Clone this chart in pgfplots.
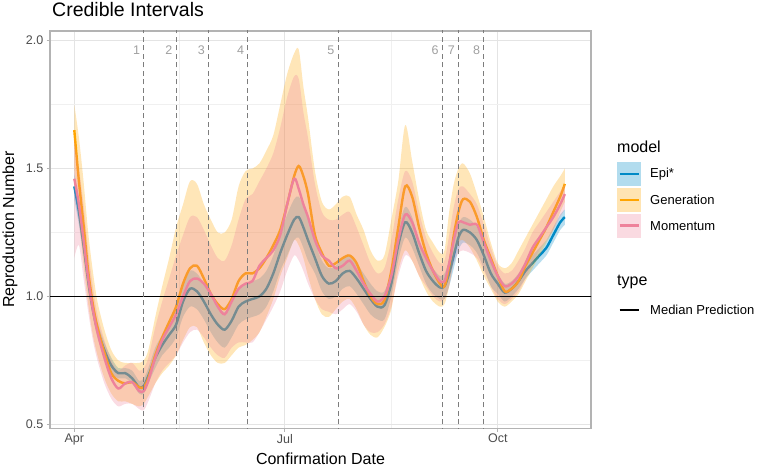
\documentclass[border=0pt]{standalone}
\usepackage{fontspec}
\setmainfont{Liberation Sans}
\usepackage{pgfplots}
\pgfplotsset{compat=1.18}
\usepgfplotslibrary{fillbetween}
\usepackage{pgfplotstable}

\definecolor{epiblue}{RGB}{0,138,198}
\definecolor{genorange}{RGB}{255,165,0}
\definecolor{mompink}{RGB}{238,130,155}
\definecolor{grey70}{RGB}{179,179,179}
\definecolor{gridmaj}{RGB}{228,228,228}
\definecolor{gridmin}{RGB}{240,240,240}
\definecolor{grey30}{RGB}{77,77,77}
\definecolor{dashgray}{RGB}{125,125,125}
\definecolor{labgray}{RGB}{160,160,160}

\tikzset{fill between/on layer=main}

\pgfplotstableread{
day epi epiL epiU gen genL genU mom momL momU
0 1.43 1.38 1.48 1.65 1.50 1.75 1.46 1.15 1.62
2 1.33 1.28 1.38 1.45 1.30 1.62 1.36 1.20 1.50
4 1.20 1.16 1.24 1.28 1.12 1.45 1.22 1.07 1.36
6 1.06 1.02 1.10 1.10 0.97 1.25 1.07 0.94 1.18
8 0.95 0.92 0.98 0.97 0.85 1.10 0.95 0.83 1.04
10 0.87 0.84 0.90 0.88 0.77 0.98 0.86 0.75 0.93
13 0.79 0.76 0.82 0.78 0.68 0.87 0.76 0.66 0.83
16 0.73 0.70 0.76 0.70 0.62 0.79 0.68 0.60 0.75
19 0.70 0.68 0.72 0.67 0.59 0.75 0.64 0.57 0.71
22 0.70 0.68 0.72 0.66 0.59 0.74 0.66 0.58 0.73
25 0.68 0.66 0.71 0.665 0.58 0.74 0.665 0.58 0.74
28 0.645 0.62 0.67 0.645 0.57 0.74 0.63 0.56 0.71
30 0.65 0.62 0.68 0.645 0.58 0.75 0.63 0.555 0.72
32 0.69 0.66 0.72 0.68 0.61 0.79 0.67 0.59 0.76
35 0.76 0.72 0.80 0.77 0.66 0.92 0.76 0.66 0.88
38 0.81 0.77 0.85 0.84 0.70 1.04 0.83 0.71 0.98
41 0.85 0.80 0.90 0.90 0.73 1.15 0.88 0.74 1.07
44 0.89 0.84 0.95 0.96 0.77 1.27 0.93 0.77 1.16
47 0.98 0.92 1.04 1.05 0.83 1.36 1.00 0.82 1.24
50 1.03 0.96 1.10 1.11 0.88 1.45 1.06 0.86 1.31
53 1.02 0.95 1.09 1.12 0.88 1.44 1.07 0.87 1.31
56 0.98 0.91 1.05 1.07 0.82 1.36 1.05 0.84 1.26
59 0.93 0.86 1.00 1.01 0.77 1.30 1.01 0.80 1.20
62 0.89 0.82 0.96 0.97 0.74 1.25 0.96 0.77 1.15
65 0.87 0.80 0.94 0.95 0.74 1.25 0.93 0.76 1.14
68 0.905 0.84 0.97 0.99 0.77 1.30 0.98 0.80 1.20
71 0.96 0.89 1.03 1.06 0.80 1.43 1.03 0.82 1.30
74 0.98 0.91 1.05 1.09 0.81 1.49 1.05 0.82 1.38
77 0.99 0.92 1.06 1.09 0.83 1.50 1.06 0.82 1.40
80 1.00 0.93 1.07 1.11 0.86 1.52 1.12 0.86 1.45
83 1.03 0.96 1.10 1.15 0.92 1.57 1.15 0.91 1.50
86 1.09 1.02 1.16 1.20 0.99 1.63 1.18 0.96 1.56
89 1.17 1.10 1.24 1.26 1.08 1.75 1.24 1.02 1.66
92 1.24 1.16 1.32 1.36 1.15 1.87 1.36 1.10 1.78
95 1.30 1.22 1.38 1.47 1.22 1.95 1.46 1.16 1.86
97 1.31 1.23 1.39 1.51 1.20 1.965 1.42 1.14 1.85
99 1.27 1.19 1.35 1.47 1.15 1.82 1.36 1.10 1.72
101 1.22 1.14 1.30 1.40 1.08 1.70 1.31 1.05 1.62
104 1.15 1.09 1.21 1.24 0.99 1.49 1.22 0.99 1.44
107 1.08 1.02 1.14 1.17 0.93 1.37 1.16 0.95 1.33
110 1.05 0.99 1.11 1.12 0.92 1.34 1.14 0.94 1.30
113 1.06 1.00 1.12 1.13 0.95 1.36 1.11 0.93 1.30
116 1.09 1.03 1.15 1.15 0.98 1.39 1.12 0.95 1.32
119 1.10 1.04 1.16 1.16 0.99 1.39 1.14 0.97 1.33
122 1.07 1.01 1.13 1.13 0.95 1.32 1.10 0.94 1.27
125 1.03 0.97 1.09 1.06 0.89 1.26 1.05 0.89 1.20
128 0.99 0.93 1.05 1.00 0.85 1.18 1.01 0.86 1.13
131 0.96 0.91 1.02 0.97 0.84 1.14 0.98 0.86 1.09
134 0.965 0.91 1.02 0.985 0.88 1.16 1.00 0.89 1.11
137 1.05 1.00 1.10 1.10 0.95 1.30 1.08 0.96 1.22
140 1.20 1.14 1.26 1.27 1.10 1.45 1.22 1.08 1.38
143 1.29 1.23 1.35 1.43 1.18 1.67 1.32 1.16 1.49
146 1.25 1.19 1.31 1.39 1.14 1.53 1.29 1.14 1.45
149 1.17 1.12 1.22 1.27 1.08 1.38 1.21 1.08 1.33
152 1.10 1.05 1.15 1.17 1.02 1.26 1.15 1.04 1.23
155 1.06 1.01 1.11 1.10 0.98 1.21 1.10 1.00 1.17
158 1.035 0.99 1.08 1.05 0.96 1.17 1.06 0.98 1.13
160 1.04 0.99 1.09 1.04 0.97 1.18 1.06 0.99 1.14
162 1.09 1.04 1.14 1.12 1.04 1.33 1.13 1.04 1.24
164 1.16 1.11 1.21 1.24 1.15 1.44 1.22 1.13 1.35
166 1.23 1.18 1.28 1.33 1.21 1.50 1.29 1.17 1.42
168 1.26 1.21 1.31 1.38 1.22 1.52 1.29 1.18 1.43
171 1.25 1.20 1.30 1.37 1.19 1.48 1.28 1.17 1.40
174 1.22 1.17 1.27 1.31 1.14 1.40 1.28 1.15 1.36
177 1.16 1.11 1.21 1.22 1.08 1.31 1.21 1.10 1.28
180 1.09 1.04 1.14 1.15 1.03 1.21 1.14 1.04 1.19
183 1.05 1.01 1.09 1.08 0.98 1.13 1.08 0.99 1.12
186 1.015 0.98 1.05 1.02 0.96 1.11 1.04 0.97 1.09
189 1.03 1.00 1.06 1.03 0.98 1.13 1.05 0.99 1.10
192 1.06 1.03 1.09 1.06 1.01 1.18 1.08 1.02 1.14
195 1.10 1.07 1.13 1.12 1.06 1.23 1.13 1.07 1.19
198 1.13 1.10 1.16 1.17 1.11 1.28 1.19 1.13 1.25
201 1.16 1.13 1.19 1.22 1.16 1.33 1.23 1.18 1.29
204 1.19 1.16 1.22 1.27 1.21 1.38 1.27 1.22 1.33
207 1.24 1.21 1.27 1.33 1.26 1.43 1.31 1.26 1.37
210 1.29 1.26 1.32 1.39 1.33 1.47 1.36 1.31 1.41
212 1.31 1.28 1.34 1.44 1.37 1.50 1.40 1.34 1.44
}\rt

\begin{document}
\begin{tikzpicture}[x=1pt,y=1pt]
\begin{axis}[
  at={(50pt,39.7pt)}, anchor=south west, scale only axis,
  width=541pt, height=397.3pt,
  xmin=-10.5, xmax=223.3, ymin=0.4844, ymax=2.0377,
  xtick={0,91,183}, xticklabels={Apr,Jul,Oct},
  minor xtick={45.5,137},
  ytick={0.5,1,1.5,2}, minor ytick={0.75,1.25,1.75},
  yticklabel style={/pgf/number format/fixed, /pgf/number format/fixed zerofill, /pgf/number format/precision=1},
  /pgf/number format/assume math mode=true,
  grid=both,
  major grid style={gridmaj, line width=0.8pt},
  minor grid style={gridmin, line width=0.5pt},
  axis line style={grey70, line width=1.1pt},
  tick align=outside, major tick length=3.5pt, minor tick length=0pt,
  xtick pos=left, ytick pos=left,
  tick style={grey70, line width=1pt},
  ticklabel style={font=\fontsize{12.5}{14}\selectfont, text=grey30},
  xticklabel style={inner sep=1pt, yshift=-1pt},
  yticklabel style={inner sep=1pt, xshift=-2pt},
]
% Epi*
\addplot[draw=none, name path=eU, forget plot, smooth] table[x=day,y=epiU]{\rt};
\addplot[draw=none, name path=eL, forget plot, smooth] table[x=day,y=epiL]{\rt};
\addplot[fill=epiblue, fill opacity=0.28, draw=none, forget plot] fill between[of=eU and eL];
\addplot[epiblue, line width=2.4pt, smooth, forget plot] table[x=day,y=epi]{\rt};
% Generation
\addplot[draw=none, name path=gU, forget plot, smooth] table[x=day,y=genU]{\rt};
\addplot[draw=none, name path=gL, forget plot, smooth] table[x=day,y=genL]{\rt};
\addplot[fill=genorange, fill opacity=0.28, draw=none, forget plot] fill between[of=gU and gL];
\addplot[genorange, line width=2.4pt, smooth, forget plot] table[x=day,y=gen]{\rt};
% Momentum
\addplot[draw=none, name path=mU, forget plot, smooth] table[x=day,y=momU]{\rt};
\addplot[draw=none, name path=mL, forget plot, smooth] table[x=day,y=momL]{\rt};
\addplot[fill=mompink, fill opacity=0.28, draw=none, forget plot] fill between[of=mU and mL];
\addplot[mompink, line width=2.4pt, smooth, forget plot] table[x=day,y=mom]{\rt};
% median reference line
\addplot[black, line width=1.7pt, forget plot] coordinates {(-20,1) (240,1)};
% event lines
\pgfplotsinvokeforeach{30,44,58,75,114,159,166,177}{
  \addplot[dashgray, dash pattern=on 5pt off 3.5pt, line width=1.1pt, forget plot] coordinates {(#1,0.4) (#1,2.1)};
}
\node[anchor=east, inner sep=0pt, xshift=-3.5pt, text=labgray, font=\fontsize{12.5}{14}\selectfont] at (axis cs:30,1.963) {1};
\node[anchor=east, inner sep=0pt, xshift=-3.5pt, text=labgray, font=\fontsize{12.5}{14}\selectfont] at (axis cs:44,1.963) {2};
\node[anchor=east, inner sep=0pt, xshift=-3.5pt, text=labgray, font=\fontsize{12.5}{14}\selectfont] at (axis cs:58,1.963) {3};
\node[anchor=east, inner sep=0pt, xshift=-3.5pt, text=labgray, font=\fontsize{12.5}{14}\selectfont] at (axis cs:75,1.963) {4};
\node[anchor=east, inner sep=0pt, xshift=-3.5pt, text=labgray, font=\fontsize{12.5}{14}\selectfont] at (axis cs:114,1.963) {5};
\node[anchor=east, inner sep=0pt, xshift=-3.5pt, text=labgray, font=\fontsize{12.5}{14}\selectfont] at (axis cs:159,1.963) {6};
\node[anchor=east, inner sep=0pt, xshift=-3.5pt, text=labgray, font=\fontsize{12.5}{14}\selectfont] at (axis cs:166,1.963) {7};
\node[anchor=east, inner sep=0pt, xshift=-3.5pt, text=labgray, font=\fontsize{12.5}{14}\selectfont] at (axis cs:177,1.963) {8};
\end{axis}
% titles
\node[anchor=base west, inner sep=0pt, font=\fontsize{19.5}{22}\selectfont] at (52,451.3) {Credible Intervals};
\node[rotate=90, inner sep=0pt, font=\fontsize{16}{18}\selectfont] at (10,238.3) {Reproduction Number};
\node[inner sep=0pt, font=\fontsize{16}{18}\selectfont] at (320.5,9.5) {Confirmation Date};
% legend: model
\node[anchor=west, inner sep=0pt, font=\fontsize{16}{18}\selectfont] at (617,321.3) {model};
\fill[epiblue!30!white] (617,281.7) rectangle (641,305.7);
\draw[epiblue, line width=2.4pt] (619.5,293.7) -- (638.5,293.7);
\node[anchor=west, inner sep=0pt, font=\fontsize{13}{15}\selectfont] at (650,293.7) {Epi*};
\fill[genorange!30!white] (617,256) rectangle (641,280);
\draw[genorange, line width=2.4pt] (619.5,268) -- (638.5,268);
\node[anchor=west, inner sep=0pt, font=\fontsize{13}{15}\selectfont] at (650,268) {Generation};
\fill[mompink!30!white] (617,230.3) rectangle (641,254.3);
\draw[mompink, line width=2.4pt] (619.5,242.3) -- (638.5,242.3);
\node[anchor=west, inner sep=0pt, font=\fontsize{13}{15}\selectfont] at (650,242.3) {Momentum};
% legend: type
\node[anchor=west, inner sep=0pt, font=\fontsize{16}{18}\selectfont] at (617,186.3) {type};
\draw[black, line width=2.4pt] (619.5,158) -- (638.5,158);
\node[anchor=west, inner sep=0pt, font=\fontsize{13}{15}\selectfont] at (650,158) {Median Prediction};
\pgfresetboundingbox
\path[use as bounding box] (0,0) rectangle (762,468);
\end{tikzpicture}
\end{document}
